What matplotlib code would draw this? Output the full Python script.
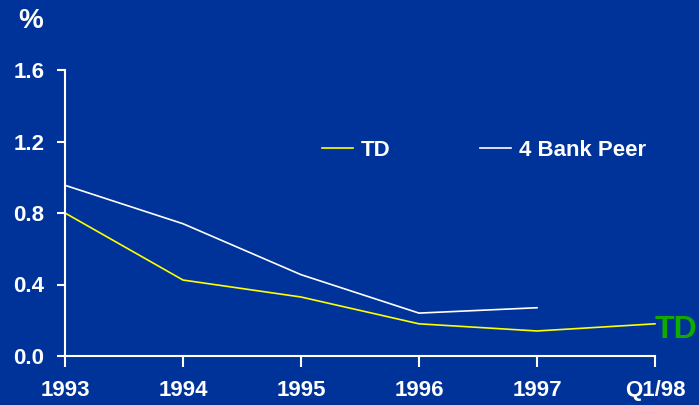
import matplotlib
matplotlib.use("Agg")
import matplotlib.pyplot as plt

categories = ["1993", "1994", "1995", "1996", "1997", "Q1/98"]
td_values = [0.80, 0.425, 0.33, 0.18, 0.14, 0.18]
peer_values = [0.955, 0.74, 0.455, 0.24, 0.27]
yticks = [0.0, 0.4, 0.8, 1.2, 1.6]
ytick_labels = ["0.0", "0.4", "0.8", "1.2", "1.6"]

bg = "#003399"
plt.rcParams["font.family"] = ["Liberation Sans", "DejaVu Sans"]

fig = plt.figure(figsize=(6.99, 4.05), dpi=100, facecolor=bg)
ax = fig.add_axes([65/699, 1-356/405, (655-65)/699, (356-70)/405])
ax.set_facecolor(bg)

x_td = list(range(len(td_values)))
x_peer = list(range(len(peer_values)))
l1, = ax.plot(x_td, td_values, color="#FFFF00", lw=1.2, label="TD", clip_on=False)
l2, = ax.plot(x_peer, peer_values, color="white", lw=1.2, label="4 Bank Peer", clip_on=False)

ax.set_xlim(0, len(categories) - 1)
ax.set_ylim(0, 1.6)
ax.set_xticks(range(len(categories)))
ax.set_xticklabels(categories)
ax.set_yticks(yticks)
ax.set_yticklabels(ytick_labels)

for s in ["top", "right"]:
    ax.spines[s].set_visible(False)
for s in ["left", "bottom"]:
    ax.spines[s].set_color("white")
    ax.spines[s].set_linewidth(1.5)

ax.tick_params(axis="x", colors="white", length=8, width=1.5, direction="out", pad=9)
ax.tick_params(axis="y", colors="white", length=6, width=1.5, direction="out", pad=9)
for lab in ax.get_xticklabels() + ax.get_yticklabels():
    lab.set_fontweight("bold")
    lab.set_fontsize(16)
    lab.set_color("white")

fig.text(18/699, 1-21/405, "%", color="white", fontsize=20, fontweight="bold", va="center", ha="left")

def make_legend(handle, xpix):
    leg = ax.legend(handles=[handle], loc="center left",
                    bbox_to_anchor=((xpix-65)/590, (356-150)/286),
                    frameon=False, handlelength=1.4, handletextpad=0.35,
                    borderaxespad=0, borderpad=0, fontsize=16)
    for t in leg.get_texts():
        t.set_color("white"); t.set_fontweight("bold")
    return leg

leg1 = make_legend(l1, 322)
ax.add_artist(leg1)
leg2 = make_legend(l2, 480)

fig.text(655/699, 1-330/405, "TD", color="#11AA00", fontsize=23, fontweight="bold",
         va="center", ha="left")

fig.savefig("out.png", dpi=100, facecolor=bg)
